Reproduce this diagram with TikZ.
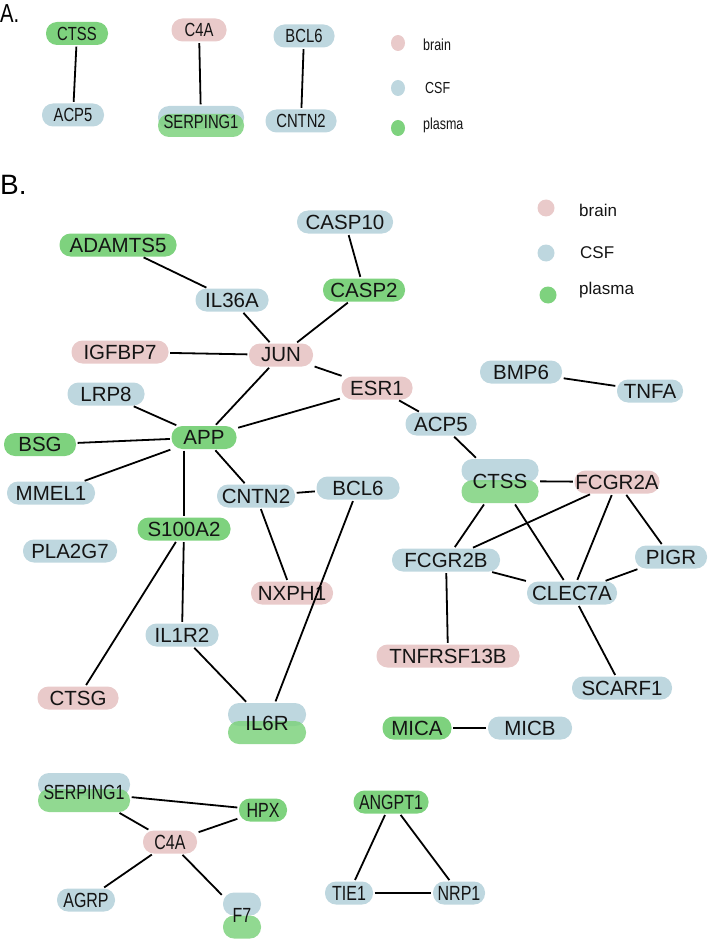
\documentclass[tikz,border=0pt]{standalone}
\usepackage{fontspec}
\setmainfont{Liberation Sans}
\newfontfamily\narrowsans[FakeStretch=0.78]{Liberation Sans}
\usetikzlibrary{shapes.geometric}

\definecolor{brainpink}{RGB}{233,202,202}
\definecolor{csfblue}{RGB}{190,215,223}
\definecolor{plasmagreen}{RGB}{126,210,126}

\tikzset{
  gene/.style={rectangle, rounded corners=11pt, minimum height=23pt, inner sep=0pt,
    text=black!92, font=\fontsize{20.5}{24}\selectfont},
  brain/.style={gene, fill=brainpink},
  csf/.style={gene, fill=csfblue},
  plasma/.style={gene, fill=plasmagreen},
  smallA/.style={font=\narrowsans\fontsize{19}{22}\selectfont},
  squeezed/.style={font=\narrowsans\fontsize{20.5}{24}\selectfont},
  link/.style={line width=1.8pt, shorten >=1.5pt, shorten <=1.5pt},
  keydot/.style={ellipse, inner sep=0pt},
  keytext/.style={anchor=west, inner sep=0pt, text=black!92},
}

% gene found in two fluids: CSF pill on top, plasma pill below
% #1 name, #2 x, #3 y, #4 half offset, #5 width, #6 label, #7 font style
\newcommand{\dualgene}[7]{%
  \node[csf, minimum width=#5] at (#2,#3-#4) {};
  \node[plasma, minimum width=#5, fill opacity=0.85] at (#2,#3+#4) {};
  \node[gene, #7, minimum width=#5, minimum height=23pt+2*#4] (#1) at (#2,#3) {#6};
}

\begin{document}
\begin{tikzpicture}[x=1pt, y=-1pt]
    \useasboundingbox (0,0) rectangle (708,941);

    % panel A
    \node[anchor=north west, inner sep=0pt, font=\narrowsans\fontsize{26}{30}\selectfont] (labA) at (0,4) {A.};

    \node[plasma, smallA, minimum width=62pt] (ctssA) at (77,33.5) {CTSS};
    \node[csf, smallA, minimum width=62pt] (acpA) at (73,115) {ACP5};
    \draw[link] (ctssA) -- (acpA);

    \node[brain, smallA, minimum width=55pt] (cfourA) at (199,30) {C4A};
    \dualgene{serpA}{201}{121.5}{4}{86pt}{SERPING1}{smallA}
    \draw[link] (cfourA) -- (serpA);

    \node[csf, smallA, minimum width=61pt] (bclA) at (304,36) {BCL6};
    \node[csf, smallA, minimum width=71pt] (cntnA) at (301,121) {CNTN2};
    \draw[link] (bclA) -- (cntnA);

    \node[keydot, fill=brainpink, minimum width=14pt, minimum height=16pt] (dotbrainA) at (398,43) {};
    \node[keydot, fill=csfblue, minimum width=14pt, minimum height=16pt] (dotcsfA) at (398,88) {};
    \node[keydot, fill=plasmagreen, minimum width=14pt, minimum height=16pt] (dotplasmaA) at (398,128) {};
    \node[keytext, font=\narrowsans\fontsize{16}{19}\selectfont] (keybrainA) at (423,45) {brain};
    \node[keytext, font=\narrowsans\fontsize{16}{19}\selectfont] (keycsfA) at (425,88) {CSF};
    \node[keytext, font=\narrowsans\fontsize{16}{19}\selectfont] (keyplasmaA) at (423,125) {plasma};

    % panel B
    \node[anchor=north west, inner sep=0pt, font=\fontsize{28}{32}\selectfont] (labB) at (0,175) {B.};

    \node[keydot, fill=brainpink, minimum size=17pt] (dotbrainB) at (546,208) {};
    \node[keydot, fill=csfblue, minimum size=17pt] (dotcsfB) at (546,253) {};
    \node[keydot, fill=plasmagreen, minimum size=17pt] (dotplasmaB) at (548,295) {};
    \node[keytext, font=\fontsize{17}{20}\selectfont] (keybrainB) at (579,210) {brain};
    \node[keytext, font=\fontsize{17}{20}\selectfont] (keycsfB) at (580,253) {CSF};
    \node[keytext, font=\fontsize{17}{20}\selectfont] (keyplasmaB) at (579,290) {plasma};

    \node[csf, minimum width=96pt] (casp10) at (345,222) {CASP10};
    \node[plasma, minimum width=117pt] (adamts) at (118,245) {ADAMTS5};
    \node[csf, minimum width=73pt] (il36a) at (232,300) {IL36A};
    \node[plasma, minimum width=82pt] (casp2) at (364,290) {CASP2};
    \node[brain, minimum width=97pt] (igfbp) at (120,352) {IGFBP7};
    \node[brain, minimum width=64pt] (jun) at (281,355) {JUN};
    \node[brain, minimum width=71pt] (esr) at (377,388) {ESR1};
    \node[csf, minimum width=77pt] (lrp) at (106,394) {LRP8};
    \node[plasma, minimum width=65pt] (app) at (204,437.5) {APP};
    \node[plasma, minimum width=72pt] (bsg) at (40,444.5) {BSG};
    \node[csf, minimum width=82pt] (bmp) at (521,372) {BMP6};
    \node[csf, minimum width=66pt] (tnfa) at (650,391) {TNFA};
    \node[csf, minimum width=71pt] (acpB) at (441,424) {ACP5};
    \dualgene{ctssB}{500}{481}{10.5}{77pt}{CTSS}{}
    \node[brain, minimum width=85pt] (fcgra) at (617,482) {FCGR2A};
    \node[csf, minimum width=88pt] (mmel) at (51,493) {MMEL1};
    \node[csf, minimum width=78pt] (cntnB) at (256,496) {CNTN2};
    \node[csf, minimum width=83pt] (bclB) at (358,488) {BCL6};
    \node[plasma, minimum width=93pt] (s100) at (184,529) {S100A2};
    \node[csf, minimum width=94pt] (pla) at (70,551) {PLA2G7};
    \node[brain, minimum width=82pt] (nxph) at (292,593) {NXPH1};
    \node[csf, minimum width=73pt] (il1r) at (182,635) {IL1R2};
    \node[brain, minimum width=81pt] (ctsg) at (78,698) {CTSG};
    \dualgene{il6r}{267}{723.5}{9}{78pt}{IL6R}{}
    \node[csf, minimum width=108pt] (fcgrb) at (446,560) {FCGR2B};
    \node[csf, minimum width=72pt] (pigr) at (671,557) {PIGR};
    \node[csf, minimum width=90pt] (clec) at (572,593) {CLEC7A};
    \node[brain, minimum width=143pt] (tnfr) at (448,656) {TNFRSF13B};
    \node[csf, minimum width=100pt] (scarf) at (622,688) {SCARF1};
    \node[plasma, minimum width=69pt] (mica) at (417,728) {MICA};
    \node[csf, minimum width=84pt] (micb) at (530,728) {MICB};

    \draw[link] (adamts) -- (il36a);
    \draw[link] (casp10) -- (casp2);
    \draw[link] (il36a) -- (jun);
    \draw[link] (casp2) -- (jun);
    \draw[link] (igfbp) -- (jun);
    \draw[link] (jun) -- (esr);
    \draw[link] (jun) -- (app);
    \draw[link] (lrp) -- (app);
    \draw[link] (bsg) -- (app);
    \draw[link] (app) -- (esr);
    \draw[link] (app) -- (mmel);
    \draw[link] (app.south -| s100.north) -- (s100.north);
    \draw[link] (app) -- (cntnB);
    \draw[link] (cntnB) -- (bclB);
    \draw[link] (cntnB) -- (nxph);
    \draw[link] (s100) -- (il1r);
    \draw[link] (s100) -- (ctsg);
    \draw[link] (il1r) -- (il6r);
    \draw[link] (bclB) -- (il6r);
    \draw[link] (esr) -- (acpB);
    \draw[link] (acpB) -- (ctssB);
    \draw[link] (bmp) -- (tnfa);
    \draw[link] (ctssB) -- (fcgra);
    \draw[link] (ctssB) -- (fcgrb);
    \draw[link] (ctssB) -- (clec);
    \draw[link] (fcgra) -- (fcgrb);
    \draw[link] (fcgra) -- (clec);
    \draw[link] (fcgra) -- (pigr);
    \draw[link] (fcgrb) -- (clec);
    \draw[link] (pigr) -- (clec);
    \draw[link] (fcgrb) -- (tnfr);
    \draw[link] (clec) -- (scarf);
    \draw[link] (mica) -- (micb);

    % bottom groups
    \dualgene{serpC}{84}{792.5}{8}{92pt}{SERPING1}{squeezed}
    \node[plasma, squeezed, minimum width=48pt] (hpx) at (263,810) {HPX};
    \node[brain, squeezed, minimum width=54pt] (cfourC) at (170,842) {C4A};
    \node[csf, squeezed, minimum width=58pt] (agrp) at (86,900) {AGRP};
    \dualgene{f7}{242}{915.5}{11.5}{38pt}{F7}{squeezed}
    \draw[link] (serpC) -- (hpx);
    \draw[link] (serpC) -- (cfourC);
    \draw[link] (cfourC) -- (hpx);
    \draw[link] (cfourC) -- (agrp);
    \draw[link] (cfourC) -- (f7);

    \node[plasma, squeezed, minimum width=75pt] (angpt) at (391,802) {ANGPT1};
    \node[csf, squeezed, minimum width=48pt] (tie) at (349,893) {TIE1};
    \node[csf, squeezed, minimum width=52pt] (nrp) at (459,893) {NRP1};
    \draw[link] (angpt) -- (tie);
    \draw[link] (angpt) -- (nrp);
    \draw[link] (tie) -- (nrp);
\end{tikzpicture}
\end{document}
